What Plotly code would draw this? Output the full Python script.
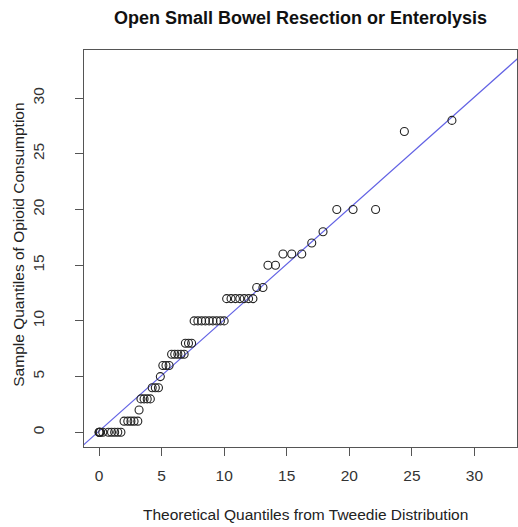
import plotly.graph_objects as go

# ---- data ----
theoretical_q = [
    0.0, 0.02, 0.05, 0.1, 0.3, 0.75, 1.0, 1.25, 1.5, 1.75,
    2.0, 2.3, 2.55, 2.8, 3.1,
    3.2,
    3.35, 3.6, 3.85, 4.1,
    4.25, 4.5, 4.75,
    4.9,
    5.1, 5.35, 5.6,
    5.8, 6.05, 6.3, 6.55, 6.8,
    6.9, 7.15, 7.4,
    7.6, 7.9, 8.2, 8.5, 8.8, 9.1, 9.4, 9.7, 10.0,
    10.2, 10.55, 10.9, 11.25, 11.6, 11.95, 12.3,
    12.6, 13.1,
    13.5, 14.1,
    14.7, 15.4, 16.2,
    17.0,
    17.9,
    19.0, 20.3, 22.1,
    24.4,
    28.2,
]
sample_q = [
    0, 0, 0, 0, 0, 0, 0, 0, 0, 0,
    1, 1, 1, 1, 1,
    2,
    3, 3, 3, 3,
    4, 4, 4,
    5,
    6, 6, 6,
    7, 7, 7, 7, 7,
    8, 8, 8,
    10, 10, 10, 10, 10, 10, 10, 10, 10,
    12, 12, 12, 12, 12, 12, 12,
    13, 13,
    15, 15,
    16, 16, 16,
    17,
    18,
    20, 20, 20,
    27,
    28,
]
line_intercept = 0.1
line_slope = 1.0
tick_vals = [0, 5, 10, 15, 20, 25, 30]
tick_text = ["0", "5", "10", "15", "20", "25", "30"]
x_range = [-1.2, 33.4]
y_range = [-1.32, 34.32]

title_text = "Open Small Bowel Resection or Enterolysis"
x_title = "Theoretical Quantiles from Tweedie Distribution"
y_title = "Sample Quantiles of Opioid Consumption"

FONT = "Liberation Sans, Arial, sans-serif"

fig = go.Figure()

# reference line spanning the full plot area
lx = [x_range[0] - 2, x_range[1] + 2]
ly = [line_intercept + line_slope * v for v in lx]
fig.add_trace(go.Scatter(
    x=lx, y=ly, mode="lines",
    line=dict(color="#6262e4", width=1.2),
    hoverinfo="skip", showlegend=False,
))

fig.add_trace(go.Scatter(
    x=theoretical_q, y=sample_q, mode="markers",
    marker=dict(symbol="circle-open", size=8, color="#222222",
                line=dict(width=1.1, color="#222222")),
    showlegend=False,
))

axis_common = dict(
    showgrid=False, zeroline=False, automargin=False,
    showline=True, mirror=True, linecolor="#555555", linewidth=1,
    ticks="outside", ticklen=8, tickwidth=1, tickcolor="#555555",
    tickvals=tick_vals, ticktext=tick_text,
    tickfont=dict(family=FONT, size=15.5, color="#333333"),
)

fig.update_layout(
    width=518, height=527,
    margin=dict(l=84, r=1, t=50, b=80, autoexpand=False),
    paper_bgcolor="white", plot_bgcolor="white",
    font=dict(family=FONT, color="#222222"),
    xaxis=dict(range=x_range, ticklabelstandoff=6, **axis_common),
    yaxis=dict(range=y_range, tickangle=-90, ticklabelstandoff=25, **axis_common),
    annotations=[
        dict(text="<b>" + title_text + "</b>", xref="paper", yref="paper",
             x=0.5, y=1.0806, xanchor="center", yanchor="middle", showarrow=False,
             font=dict(family=FONT, size=18, color="#111111")),
        dict(text=x_title, xref="paper", yref="paper",
             x=0.511, y=-0.171, xanchor="center", yanchor="middle", showarrow=False,
             font=dict(family=FONT, size=15.5, color="#222222")),
        dict(text=y_title, xref="paper", yref="paper", textangle=-90,
             x=-0.152, y=0.51, xanchor="center", yanchor="middle", showarrow=False,
             font=dict(family=FONT, size=15.5, color="#222222")),
    ],
)

fig.write_html(
    "out.html",
    config={"displayModeBar": False},
    post_script="document.body.style.margin='0px';document.body.style.overflow='hidden';",
)
